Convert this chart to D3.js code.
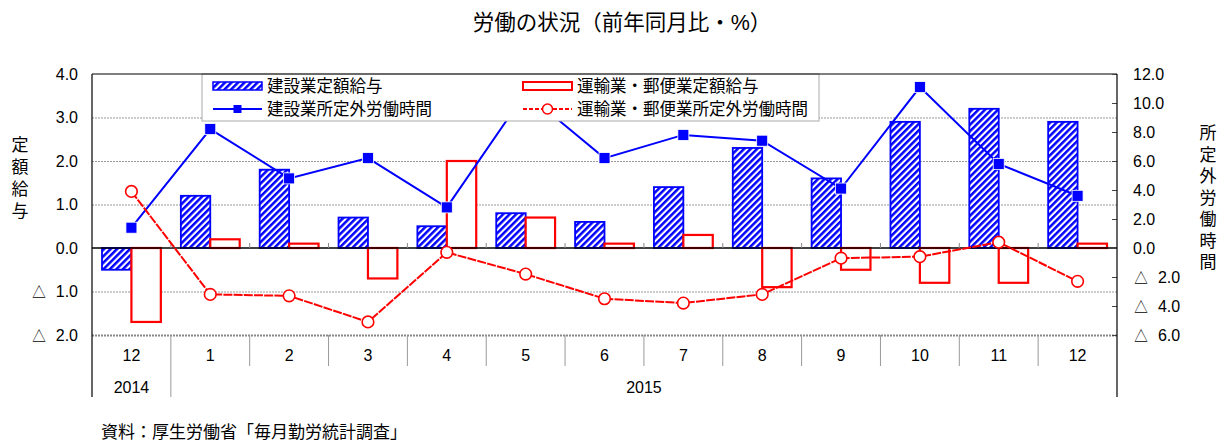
<!DOCTYPE html>
<html lang="ja">
<head>
    <title>労働の状況</title>
    <meta charset="utf-8">
    <script src="https://d3js.org/d3.v7.min.js"></script>
    <style>
        body {
            margin: 0;
            background: #fff;
        }

        svg {
            font-family: "Liberation Sans", "Noto Sans CJK JP", sans-serif;
        }

        .grid line {
            stroke: #999;
            stroke-width: 1.2;
            stroke-dasharray: 2, 1;
        }
    </style>
</head>

<body>
    <div id="chart"></div>
    <script>
        // data
        const months = ["12", "1", "2", "3", "4", "5", "6", "7", "8", "9", "10", "11", "12"];
        const years = ["2014", "2015"];
        const kensetsuPay = [-0.5, 1.2, 1.8, 0.7, 0.5, 0.8, 0.6, 1.4, 2.3, 1.6, 2.9, 3.2, 2.9];
        const unyuPay = [-1.7, 0.2, 0.1, -0.7, 2.0, 0.7, 0.1, 0.3, -0.9, -0.5, -0.8, -0.8, 0.1];
        const kensetsuHours = [1.4, 8.2, 4.8, 6.2, 2.8, 10.7, 6.2, 7.8, 7.4, 4.1, 11.1, 5.8, 3.6];
        const unyuHours = [3.9, -3.2, -3.3, -5.1, -0.3, -1.8, -3.5, -3.8, -3.2, -0.7, -0.6, 0.4, -2.3];
        const leftTicks = [4, 3, 2, 1, 0, -1, -2];
        const rightTicks = [12, 10, 8, 6, 4, 2, 0, -2, -4, -6];
        const seriesNames = ["建設業定額給与", "運輸業・郵便業定額給与", "建設業所定外労働時間", "運輸業・郵便業所定外労働時間"];

        const w = 1219;
        const h = 443;
        const plotLeft = 92, plotRight = 1117, plotTop = 74, plotBottom = 335;
        const blue = "#0000ff";
        const red = "#ff0000";

        const svg = d3.select("#chart")
            .append("svg")
            .attr("width", w)
            .attr("height", h);

        // hatch for construction bars
        const pattern = svg.append("defs").append("pattern")
            .attr("id", "hatch")
            .attr("patternUnits", "userSpaceOnUse")
            .attr("width", 4.6)
            .attr("height", 4.6)
            .attr("patternTransform", "rotate(45)");
        pattern.append("rect").attr("width", 4.6).attr("height", 4.6).attr("fill", "#fff");
        pattern.append("rect").attr("width", 2.5).attr("height", 4.6).attr("fill", blue);

        const keys = d3.range(months.length);

        const xScale = d3.scaleBand()
            .domain(keys)
            .range([plotLeft, plotRight])
            .padding(0);

        const xSub = d3.scaleBand()
            .domain(["k", "u"])
            .range([0, xScale.bandwidth()])
            .paddingInner(0)
            .paddingOuter(0.34);

        const yLeft = d3.scaleLinear().domain([-2, 4]).range([plotBottom, plotTop]);
        const yRight = d3.scaleLinear().domain([-6, 12]).range([plotBottom, plotTop]);

        const fmt = v => v < 0 ? "△\u00a0\u00a0" + Math.abs(v).toFixed(1) : v.toFixed(1);

        // title
        svg.append("text")
            .attr("x", 622)
            .attr("y", 30)
            .attr("text-anchor", "middle")
            .attr("font-size", 21.5)
            .attr("fill", "#000")
            .text("労働の状況（前年同月比・%）");

        // gridlines
        svg.append("g")
            .attr("class", "grid")
            .attr("transform", `translate(${plotLeft}, 0)`)
            .call(d3.axisLeft(yLeft).tickValues([3, 2, 1, -1, -2]).tickSize(-(plotRight - plotLeft)).tickFormat(""))
            .call(g => g.select(".domain").remove());
        svg.select(".grid").selectAll("line").filter(d => d == -2)
            .style("stroke-width", 2).style("stroke", "#888");

        // bars
        const cx = i => xScale(i) + xScale.bandwidth() / 2;

        svg.append("g").selectAll("rect")
            .data(kensetsuPay)
            .enter()
            .append("rect")
            .attr("x", (d, i) => xScale(i) + xSub("k"))
            .attr("y", d => yLeft(Math.max(0, d)))
            .attr("width", xSub.bandwidth())
            .attr("height", d => Math.abs(yLeft(d) - yLeft(0)))
            .attr("fill", "url(#hatch)")
            .attr("stroke", blue)
            .attr("stroke-width", 1.8);

        svg.append("g").selectAll("rect")
            .data(unyuPay)
            .enter()
            .append("rect")
            .attr("x", (d, i) => xScale(i) + xSub("u"))
            .attr("y", d => yLeft(Math.max(0, d)))
            .attr("width", xSub.bandwidth())
            .attr("height", d => Math.abs(yLeft(d) - yLeft(0)))
            .attr("fill", "#fff")
            .attr("stroke", red)
            .attr("stroke-width", 2.2);

        // zero line with small category ticks
        svg.append("line")
            .attr("x1", plotLeft).attr("x2", plotRight)
            .attr("y1", yLeft(0)).attr("y2", yLeft(0))
            .attr("stroke", "#000").attr("stroke-width", 1.5);
        svg.append("g").selectAll("line")
            .data(keys.slice(1))
            .enter()
            .append("line")
            .attr("x1", d => xScale(d)).attr("x2", d => xScale(d))
            .attr("y1", yLeft(0) - 5).attr("y2", yLeft(0))
            .attr("stroke", "#888");

        // lines
        const lineK = d3.line().x((d, i) => cx(i)).y(d => yRight(d));
        svg.append("path")
            .datum(kensetsuHours)
            .attr("d", lineK)
            .attr("fill", "none")
            .attr("stroke", blue)
            .attr("stroke-width", 2);

        svg.append("path")
            .datum(unyuHours)
            .attr("d", lineK)
            .attr("fill", "none")
            .attr("stroke", red)
            .attr("stroke-width", 2)
            .attr("stroke-dasharray", "9,1.2");

        svg.append("g").selectAll("rect")
            .data(kensetsuHours)
            .enter()
            .append("rect")
            .attr("x", (d, i) => cx(i) - 5.5)
            .attr("y", d => yRight(d) - 5.5)
            .attr("width", 11)
            .attr("height", 11)
            .attr("fill", blue)
            .attr("stroke", "#fff")
            .attr("stroke-width", 0.8);

        svg.append("g").selectAll("circle")
            .data(unyuHours)
            .enter()
            .append("circle")
            .attr("cx", (d, i) => cx(i))
            .attr("cy", d => yRight(d))
            .attr("r", 5.8)
            .attr("fill", "#fff")
            .attr("stroke", red)
            .attr("stroke-width", 1.6);

        // legend
        const legend = svg.append("g");
        legend.append("rect")
            .attr("x", 202).attr("y", 74)
            .attr("width", 617).attr("height", 47)
            .attr("fill", "#fff")
            .attr("stroke", "#aaa");

        const rows = [86, 109];
        const cols = [213, 523];
        legend.append("rect")
            .attr("x", cols[0]).attr("y", rows[0] - 4)
            .attr("width", 49).attr("height", 8)
            .attr("fill", "url(#hatch)").attr("stroke", blue).attr("stroke-width", 1.5);
        legend.append("rect")
            .attr("x", cols[1]).attr("y", rows[0] - 4)
            .attr("width", 49).attr("height", 8)
            .attr("fill", "#fff").attr("stroke", red).attr("stroke-width", 2);
        legend.append("line")
            .attr("x1", cols[0]).attr("x2", cols[0] + 49)
            .attr("y1", rows[1]).attr("y2", rows[1])
            .attr("stroke", blue).attr("stroke-width", 2);
        legend.append("rect")
            .attr("x", cols[0] + 24.5 - 4).attr("y", rows[1] - 4)
            .attr("width", 8).attr("height", 8)
            .attr("fill", blue);
        legend.append("line")
            .attr("x1", cols[1]).attr("x2", cols[1] + 49)
            .attr("y1", rows[1]).attr("y2", rows[1])
            .attr("stroke", red).attr("stroke-width", 2)
            .attr("stroke-dasharray", "4,2");
        legend.append("circle")
            .attr("cx", cols[1] + 24.5).attr("cy", rows[1])
            .attr("r", 5).attr("fill", "#fff")
            .attr("stroke", red).attr("stroke-width", 1.5);

        legend.selectAll("text.item")
            .data(seriesNames)
            .enter()
            .append("text")
            .attr("class", "item")
            .attr("x", (d, i) => cols[i % 2] + 54)
            .attr("y", (d, i) => rows[Math.floor(i / 2)])
            .attr("dy", "0.36em")
            .attr("font-size", 16.5)
            .attr("fill", "#000")
            .text(d => d);

        // frame
        svg.append("line")
            .attr("x1", plotLeft).attr("x2", plotRight)
            .attr("y1", plotTop).attr("y2", plotTop)
            .attr("stroke", "#000");

        // left axis
        svg.append("g")
            .attr("class", "y-axis")
            .attr("transform", `translate(${plotLeft}, 0)`)
            .call(d3.axisLeft(yLeft).tickValues(leftTicks).tickSize(0).tickPadding(14).tickFormat(fmt))
            .call(g => g.select(".domain").remove())
            .selectAll("text")
            .attr("font-size", 16)
            .attr("fill", "#000");
        svg.append("line")
            .attr("x1", plotLeft).attr("x2", plotLeft)
            .attr("y1", plotTop).attr("y2", 397)
            .attr("stroke", "#000").attr("stroke-width", 1.2);

        // right axis
        svg.append("g")
            .attr("class", "y-axis-right")
            .attr("transform", `translate(${plotRight}, 0)`)
            .call(d3.axisRight(yRight).tickValues(rightTicks).tickSizeInner(-5).tickSizeOuter(0).tickPadding(16).tickFormat(fmt))
            .call(g => g.select(".domain").remove())
            .call(g => g.selectAll("line").attr("stroke", "#444"))
            .selectAll("text")
            .attr("font-size", 16)
            .attr("fill", "#000");
        svg.append("line")
            .attr("x1", plotRight).attr("x2", plotRight)
            .attr("y1", plotTop).attr("y2", 397)
            .attr("stroke", "#000").attr("stroke-width", 1.2);

        // category table below the plot
        svg.append("g")
            .attr("class", "x-axis")
            .attr("transform", `translate(0, ${plotBottom})`)
            .call(d3.axisBottom(xScale).tickSize(0).tickPadding(15).tickFormat(i => months[i]))
            .call(g => g.select(".domain").remove())
            .selectAll("text")
            .attr("font-size", 16)
            .attr("fill", "#000");

        svg.append("g").selectAll("line")
            .data(keys.slice(1))
            .enter()
            .append("line")
            .attr("x1", d => xScale(d)).attr("x2", d => xScale(d))
            .attr("y1", plotBottom).attr("y2", d => d == 1 ? 397 : 366)
            .attr("stroke", "#999");

        const yearX = [cx(0), (xScale(1) + xScale(12) + xScale.bandwidth()) / 2];
        svg.append("g").selectAll("text")
            .data(years)
            .enter()
            .append("text")
            .attr("x", (d, i) => yearX[i])
            .attr("y", 387)
            .attr("dy", "0.36em")
            .attr("text-anchor", "middle")
            .attr("font-size", 16)
            .attr("fill", "#000")
            .text(d => d);

        // axis titles, stacked vertically
        svg.append("g").selectAll("text")
            .data("定額給与".split(""))
            .enter()
            .append("text")
            .attr("x", 20)
            .attr("y", (d, i) => 145 + i * 22)
            .attr("dy", "0.36em")
            .attr("text-anchor", "middle")
            .attr("font-size", 17)
            .attr("fill", "#000")
            .text(d => d);

        svg.append("g").selectAll("text")
            .data("所定外労働時間".split(""))
            .enter()
            .append("text")
            .attr("x", 1208)
            .attr("y", (d, i) => 133 + i * 21.5)
            .attr("dy", "0.36em")
            .attr("text-anchor", "middle")
            .attr("font-size", 17)
            .attr("fill", "#000")
            .text(d => d);

        // source
        svg.append("text")
            .attr("x", 101)
            .attr("y", 432)
            .attr("dy", "0.36em")
            .attr("font-size", 17)
            .attr("fill", "#000")
            .text("資料：厚生労働省「毎月勤労統計調査」");
    </script>
</body>

</html>
